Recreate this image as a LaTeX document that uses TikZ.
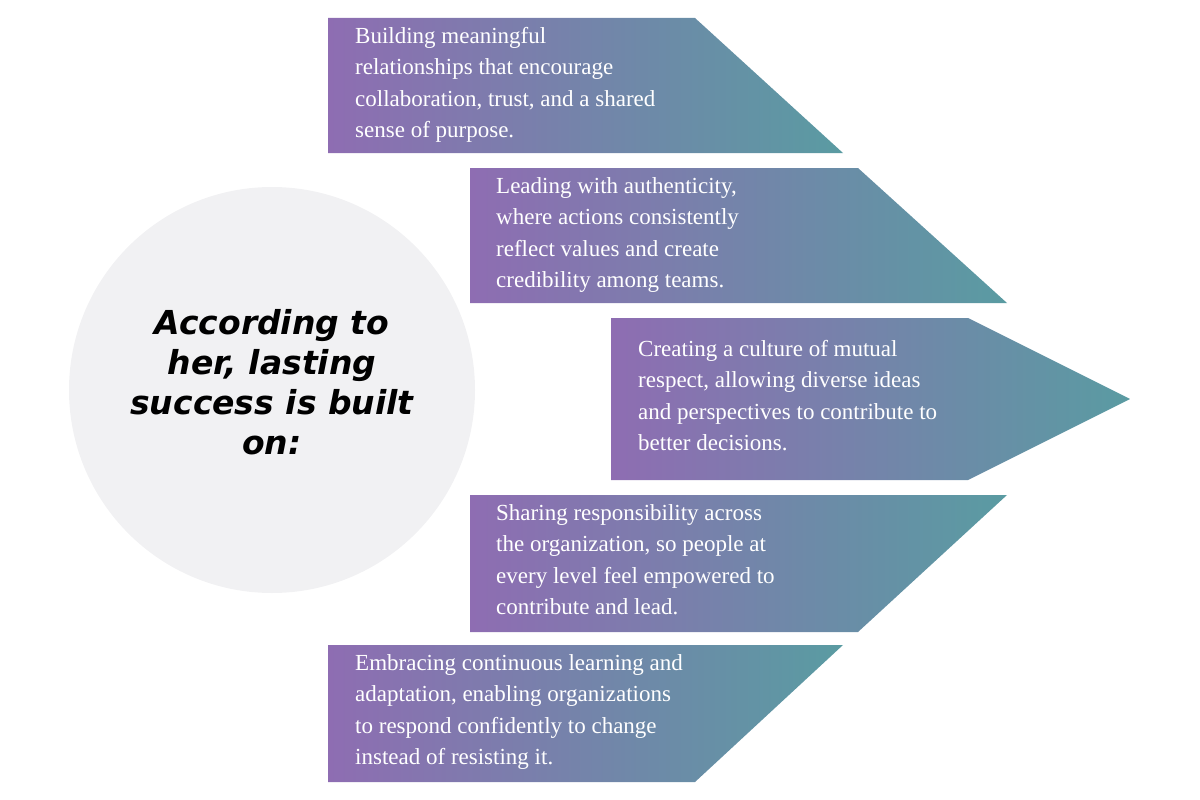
\documentclass[tikz,border=0pt]{standalone}
\usepackage{fontspec}
\setmainfont{Liberation Serif}
\newfontfamily\headfont{DejaVu Sans}
\begin{document}
\begin{tikzpicture}[x=1pt,y=-1pt,
  band/.style={left color=bandL,right color=bandR,draw=none},
  txt/.style={anchor=north west,text=white,align=left,inner sep=0pt,font=\fontsize{23}{31.5}\selectfont}]
\definecolor{bandL}{HTML}{8E6DB2}
\definecolor{bandR}{HTML}{5A9BA2}
\definecolor{circ}{HTML}{F1F1F3}
\useasboundingbox (0,0) rectangle (1200,800);
\node[circle,fill=circ,minimum size=406pt,inner sep=0pt] (c) at (272,390) {};
\node[align=center,font=\headfont\bfseries\itshape\fontsize{33}{40}\selectfont] (ct) at (272,382) {According to\\her, lasting\\success is built\\on:};
\path[band] (328,18) -- (695,18) -- (843,153) -- (328,153) -- cycle;
\path[band] (470,168) -- (858,168) -- (1007,303) -- (470,303) -- cycle;
\path[band] (611,318) -- (968,318) -- (1130,399) -- (968,480) -- (611,480) -- cycle;
\path[band] (470,495) -- (1007,495) -- (858,632) -- (470,632) -- cycle;
\path[band] (328,645) -- (843,645) -- (695,782) -- (328,782) -- cycle;
\node[txt] (t1) at (355,27) {Building meaningful\\relationships that encourage\\collaboration, trust, and a shared\\sense of purpose.};
\node[txt] (t2) at (496,177) {Leading with authenticity,\\where actions consistently\\reflect values and create\\credibility among teams.};
\node[txt] (t3) at (638,340) {Creating a culture of mutual\\respect, allowing diverse ideas\\and perspectives to contribute to\\better decisions.};
\node[txt] (t4) at (496,504) {Sharing responsibility across\\the organization, so people at\\every level feel empowered to\\contribute and lead.};
\node[txt] (t5) at (355,654) {Embracing continuous learning and\\adaptation, enabling organizations\\to respond confidently to change\\instead of resisting it.};
\end{tikzpicture}
\end{document}
